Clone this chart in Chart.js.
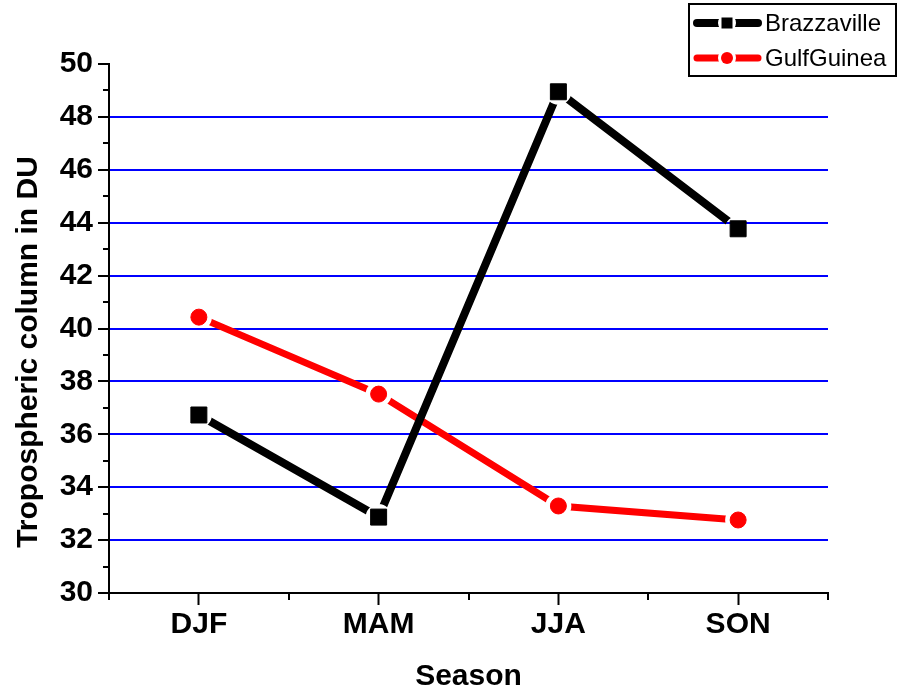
<!DOCTYPE html>
<html>
<head>
<meta charset="utf-8">
<script src="https://cdn.jsdelivr.net/npm/chart.js@4.4.0/dist/chart.umd.min.js"></script>
<style>
  html, body { margin: 0; padding: 0; background: #fff; }
  #wrap { width: 898px; height: 690px; position: relative; }
</style>
</head>
<body>
<div id="wrap"><canvas id="grafico"></canvas></div>
<script>
const seasons = ["DJF", "MAM", "JJA", "SON"];
const brazzaville = [36.73, 32.87, 48.95, 43.77];
const gulfGuinea = [40.43, 37.52, 33.29, 32.76];
const seriesNames = ["Brazzaville", "GulfGuinea"];
const yTitle = "Tropospheric column in DU";
const yMin = 30, yMax = 50, yStep = 2;

const FONT = "'Liberation Sans', Arial, sans-serif";

// gap drawn around each marker, like the original plot
const markerGap = {
  beforeDatasetDraw(chart, args) {
    const meta = args.meta;
    const ctx = chart.ctx;
    const gap = meta.controller.getDataset().gap || 12;
    ctx.save();
    ctx.beginPath();
    ctx.rect(0, 0, chart.width, chart.height);
    meta.data.forEach(function (p) {
      ctx.moveTo(p.x + gap, p.y);
      ctx.arc(p.x, p.y, gap, 0, Math.PI * 2);
    });
    ctx.clip("evenodd");
    meta.dataset.draw(ctx, chart.chartArea);
    ctx.restore();
    meta.data.forEach(function (p) { p.draw(ctx, chart.chartArea); });
    return false;
  }
};

// minor ticks, y title, legend box
const extras = {
  afterDraw(chart) {
    const ctx = chart.ctx;
    const x = chart.scales.x, y = chart.scales.y;
    ctx.save();
    ctx.strokeStyle = "#000";
    ctx.lineWidth = 2;
    ctx.beginPath();
    for (let v = yMin + 1; v < yMax; v += 2) {
      const py = Math.round(y.getPixelForValue(v));
      ctx.moveTo(y.right, py);
      ctx.lineTo(y.right - 6, py);
    }
    const xs = [x.left, x.right];
    for (let i = 0; i < seasons.length - 1; i++) {
      xs.push((x.getPixelForTick(i) + x.getPixelForTick(i + 1)) / 2);
    }
    xs.forEach(function (px) {
      ctx.moveTo(Math.round(px), x.top);
      ctx.lineTo(Math.round(px), x.top + 7);
    });
    ctx.stroke();

    // y axis title (sits a bit below the axis middle in the original)
    ctx.save();
    ctx.translate(29, 352);
    ctx.rotate(-Math.PI / 2);
    ctx.fillStyle = "#000";
    ctx.font = "bold 30px " + FONT;
    ctx.textAlign = "center";
    ctx.textBaseline = "middle";
    ctx.fillText(yTitle, 0, 0);
    ctx.restore();

    // legend
    ctx.lineWidth = 2;
    ctx.strokeRect(689, 4, 207, 72);
    const rows = [23, 58];
    chart.data.datasets.forEach(function (ds, i) {
      const ry = rows[i];
      const cx = 727;
      ctx.save();
      ctx.beginPath();
      ctx.rect(0, 0, chart.width, chart.height);
      ctx.moveTo(cx + 9, ry);
      ctx.arc(cx, ry, 9, 0, Math.PI * 2);
      ctx.clip("evenodd");
      ctx.strokeStyle = ds.borderColor;
      ctx.lineWidth = ds.borderWidth;
      ctx.lineCap = "round";
      ctx.beginPath();
      ctx.moveTo(697, ry);
      ctx.lineTo(758, ry);
      ctx.stroke();
      ctx.restore();
      ctx.fillStyle = ds.pointBackgroundColor;
      if (ds.pointStyle === "rect") {
        ctx.fillRect(cx - 5.5, ry - 5.5, 11, 11);
      } else {
        ctx.beginPath();
        ctx.arc(cx, ry, 6, 0, Math.PI * 2);
        ctx.fill();
      }
      ctx.fillStyle = "#000";
      ctx.font = "24px " + FONT;
      ctx.textBaseline = "middle";
      ctx.textAlign = "left";
      ctx.fillText(ds.label, 765, ry + 1);
    });
    ctx.restore();
  }
};

new Chart(document.getElementById("grafico"), {
  type: "line",
  data: {
    labels: seasons,
    datasets: [
      {
        label: seriesNames[0],
        data: brazzaville,
        borderColor: "#000000",
        borderWidth: 8,
        borderCapStyle: "round",
        pointStyle: "rect",
        pointRadius: 11.3,
        pointHoverRadius: 11.3,
        pointBackgroundColor: "#000000",
        pointBorderColor: "#000000",
        pointBorderWidth: 1,
        gap: 13,
        tension: 0
      },
      {
        label: seriesNames[1],
        data: gulfGuinea,
        borderColor: "#ff0000",
        borderWidth: 7,
        borderCapStyle: "round",
        pointStyle: "circle",
        pointRadius: 8,
        pointHoverRadius: 8,
        pointBackgroundColor: "#ff0000",
        pointBorderColor: "#ff0000",
        pointBorderWidth: 1,
        gap: 13,
        tension: 0
      }
    ]
  },
  options: {
    responsive: true,
    maintainAspectRatio: false,
    animation: false,
    layout: { padding: { top: 64, right: 70, left: 0, bottom: 0 } },
    plugins: {
      legend: { display: false },
      tooltip: { enabled: false }
    },
    scales: {
      x: {
        offset: true,
        afterFit: function (s) { s.height = 97; },
        grid: {
          drawOnChartArea: false,
          tickLength: 12,
          tickColor: "#000",
          tickWidth: 2,
          offset: false
        },
        border: { color: "#000", width: 2 },
        ticks: {
          color: "#000",
          padding: 2,
          font: { family: FONT, size: 30, weight: "bold", lineHeight: 1.2 }
        },
        title: {
          display: true,
          text: "Season",
          color: "#000",
          padding: { top: 0, bottom: 0 },
          font: { family: FONT, size: 30, weight: "bold", lineHeight: 0.9 }
        }
      },
      y: {
        min: yMin,
        max: yMax,
        afterFit: function (s) { s.width = 109; },
        grid: {
          color: function (c) {
            const v = c.tick && c.tick.value;
            return v > yMin && v < yMax ? "#0000ff" : "rgba(0,0,0,0)";
          },
          lineWidth: 2,
          tickLength: 11,
          tickColor: "#000",
          tickWidth: 2
        },
        border: { color: "#000", width: 2 },
        ticks: {
          stepSize: yStep,
          color: "#000",
          padding: 5,
          font: { family: FONT, size: 30, weight: "bold" }
        },
        title: { display: false }
      }
    }
  },
  plugins: [markerGap, extras]
});
</script>
</body>
</html>
